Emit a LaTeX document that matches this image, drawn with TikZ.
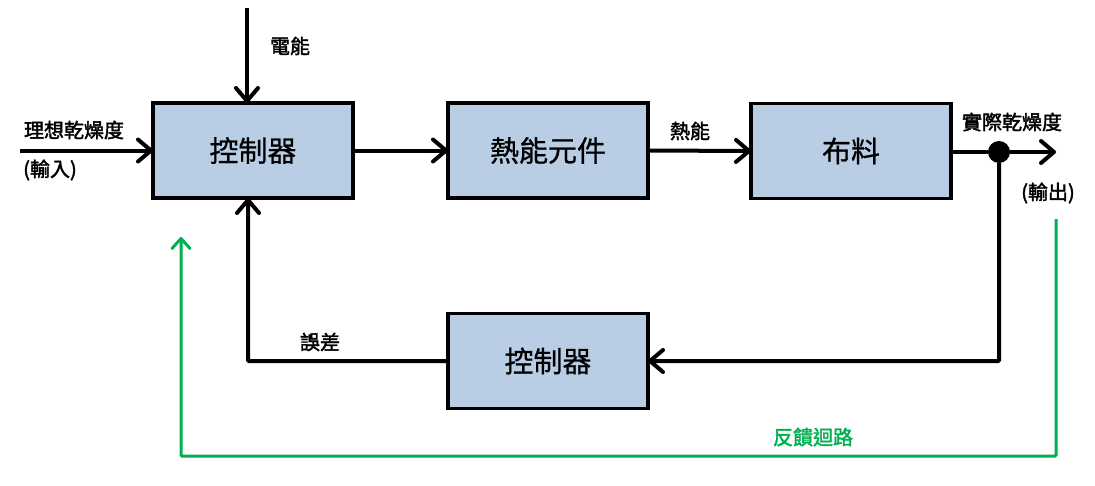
\documentclass[tikz,border=0pt]{standalone}
\usepackage{fontspec}
\newfontfamily\cjk[FakeBold=0.8]{Noto Sans CJK TC}
\newfontfamily\cjkl[FakeBold=2]{Noto Sans CJK TC}
\usetikzlibrary{arrows.meta}
\definecolor{boxblue}{RGB}{185,205,228}
\definecolor{loopgreen}{RGB}{0,176,80}
\begin{document}
\begin{tikzpicture}[x=1pt,y=-1pt,
  blk/.style={draw=black,fill=boxblue,line width=3.5pt,minimum width=200pt,minimum height=95pt,inner sep=0pt,outer sep=0pt,font=\cjk\fontsize{29}{29}\selectfont},
  lbl/.style={inner sep=0pt,font=\cjkl\fontsize{20}{20}\selectfont},
  arr/.style={line width=4pt,-{Straight Barb[length=13pt,width=22pt,line width=4pt,round]}},
  ln/.style={line width=4pt},
  garr/.style={draw=loopgreen,line width=3pt,-{Straight Barb[length=10pt,width=18pt,line width=3pt,round]}}]
\useasboundingbox (0,0) rectangle (1095,485);
\node[blk] (c1) at (253,150.5) {控制器};
\node[blk] (h) at (548,150.5) {熱能元件};
\node[blk] (f) at (851,151) {布料};
\node[blk] (c2) at (548,361) {控制器};
\node[circle,fill=black,minimum size=22pt,inner sep=0pt] (dot) at (999,152) {};
\coordinate (in) at (20,150.5);
\coordinate (pw) at (247,8);
\coordinate (out) at (1056,152);
\coordinate (eb) at (248,361);
\coordinate (g1) at (1056,219);
\coordinate (g2) at (1056,456);
\coordinate (g3) at (181,456);
\coordinate (g4) at (181,237);
\draw[arr] (in) -- (c1.west);
\draw[arr] (pw) -- (pw |- c1.north);
\draw[arr] (c1.east) -- (h.west);
\draw[arr] (h.east) -- (f.west);
\draw[ln] (f.east |- dot) -- (dot);
\draw[arr] (dot) -- (out);
\draw[arr,rounded corners=1pt] (dot) -- (dot |- c2.east) -- (c2.east);
\draw[arr,rounded corners=1pt] (c2.west) -- (eb) -- (eb |- c1.south);
\draw[garr,rounded corners=1pt] (g1) -- (g2) -- (g3) -- (g4);
\node[lbl] (l1) at (74,130) {理想乾燥度};
\node[lbl] (l2) at (50,170) {(輸入)};
\node[lbl] (l3) at (290,46) {電能};
\node[lbl] (l4) at (690,131) {熱能};
\node[lbl] (l5) at (1012,122) {實際乾燥度};
\node[lbl] (l6) at (1048,193) {(輸出)};
\node[lbl] (l7) at (320,342) {誤差};
\node[lbl,text=loopgreen] (l8) at (813,437) {反饋迴路};
\end{tikzpicture}
\end{document}
